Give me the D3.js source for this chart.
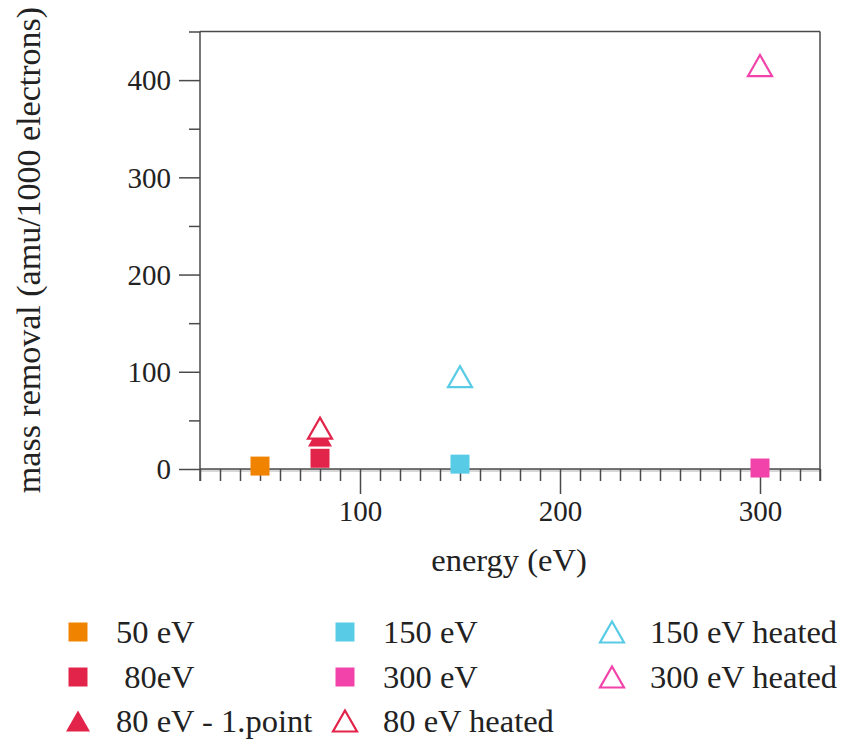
<!DOCTYPE html>
<meta charset="utf-8">
<html>
<head>
<title>mass removal</title>
<script src="https://d3js.org/d3.v7.min.js"></script>
<style>
  body { margin: 0; background: #fff; }
  text { font-family: "Liberation Serif", serif; fill: #222; }
</style>
</head>
<body>
<div id="chart"></div>
<script>
// data
var labels   = ["50 eV", " 80eV", "80 eV - 1.point", "150 eV", "300 eV", "80 eV heated", "150 eV heated", "300 eV heated"];
var energies = [50, 80, 80, 150, 300, 80, 150, 300];
var removal  = [3, 11, 34, 5, 1, 42, 95, 415];
var colors   = ["#f08400", "#e3244a", "#e3244a", "#58cbe6", "#f143aa", "#e3244a", "#58cbe6", "#f143aa"];
var shapes   = ["square", "square", "tri", "square", "square", "open", "open", "open"];

var xMajor = [100, 200, 300];
var yMajor = [0, 100, 200, 300, 400];

var W = 843, H = 740;
var pLeft = 200, pRight = 820, pTop = 31.5, pBottom = 469;

var svg = d3.select("#chart").append("svg")
  .attr("width", W).attr("height", H);

var x = d3.scaleLinear().domain([20, 330]).range([pLeft, pRight]);
var y = d3.scaleLinear().domain([0, 450]).range([pBottom, pTop]);

var axisColor = "#4a4a4a";

// light line under the x axis
svg.append("line")
  .attr("x1", pLeft).attr("x2", pRight)
  .attr("y1", y(0) + 1.5).attr("y2", y(0) + 1.5)
  .attr("stroke", "#d8d8d8").attr("stroke-width", 3);

// x axis at y = 0, ticks pointing down
var xAxis = svg.append("g")
  .attr("transform", "translate(0," + y(0) + ")")
  .call(d3.axisBottom(x).tickValues(d3.range(20, 331, 10)).tickSize(12).tickFormat(""));
xAxis.selectAll(".tick line")
  .attr("y2", function(d) { return xMajor.indexOf(d) >= 0 ? 25 : 12; });
xAxis.selectAll(".tick")
  .filter(function(d) { return xMajor.indexOf(d) >= 0; })
  .append("text")
    .attr("y", 52).attr("text-anchor", "middle")
    .style("font-size", "29px")
    .text(function(d) { return d; });

// y axis, ticks pointing left
var yAxis = svg.append("g")
  .attr("transform", "translate(" + pLeft + ",0)")
  .call(d3.axisLeft(y).tickValues(d3.range(0, 451, 50)).tickSize(11).tickFormat(""));
yAxis.selectAll(".tick line")
  .attr("x2", function(d) { return yMajor.indexOf(d) >= 0 ? -21 : -11; });
yAxis.selectAll(".tick")
  .filter(function(d) { return yMajor.indexOf(d) >= 0; })
  .append("text")
    .attr("x", -29).attr("dy", "0.34em").attr("text-anchor", "end")
    .style("font-size", "29px")
    .text(function(d) { return d; });

svg.selectAll(".domain").remove();
svg.selectAll(".tick line").attr("stroke", axisColor).attr("stroke-width", 1.5);

// frame
var frame = svg.append("g").attr("stroke", axisColor).attr("stroke-width", 1.5);
frame.append("line").attr("x1", pLeft).attr("x2", pLeft).attr("y1", pTop).attr("y2", pBottom + 12);
frame.append("line").attr("x1", pRight).attr("x2", pRight).attr("y1", pTop).attr("y2", pBottom + 12);
frame.append("line").attr("x1", pLeft).attr("x2", pRight).attr("y1", pTop).attr("y2", pTop);
frame.append("line").attr("x1", pLeft).attr("x2", pRight).attr("y1", y(0)).attr("y2", y(0));

// marker paths centred on their box
function markerPath(shape) {
  if (shape == "square") return "M-9.5,-9.5H9.5V9.5H-9.5Z";
  return "M0,-10.5L12,10.5L-12,10.5Z";
}
function styleMarker(sel) {
  sel.attr("d", function(i) { return markerPath(shapes[i]); })
    .attr("fill", function(i) { return shapes[i] == "open" ? "#fff" : colors[i]; })
    .attr("stroke", function(i) { return shapes[i] == "open" ? colors[i] : "none"; })
    .attr("stroke-width", 2.2);
}

var idx = d3.range(labels.length);
svg.append("g").selectAll("path")
  .data(idx)
  .join("path")
    .attr("transform", function(i) { return "translate(" + x(energies[i]) + "," + y(removal[i]) + ")"; })
    .call(styleMarker);

// axis titles
svg.append("text")
  .attr("x", 509).attr("y", 571)
  .attr("text-anchor", "middle")
  .style("font-size", "32.5px")
  .text("energy (eV)");

svg.append("text")
  .attr("transform", "translate(40,250) rotate(-90)")
  .attr("text-anchor", "middle")
  .style("font-size", "34px")
  .text("mass removal (amu/1000 electrons)");

// legend, filled column by column
var colX = [78, 345, 612], rowY = [632, 677, 721];
var leg = svg.append("g").selectAll("g")
  .data(idx)
  .join("g")
    .attr("transform", function(i) {
      return "translate(" + colX[Math.floor(i / 3)] + "," + rowY[i % 3] + ")";
    });
leg.append("path").call(styleMarker);
leg.append("text")
  .attr("x", 38).attr("dy", "0.34em")
  .style("font-size", "32.5px")
  .style("white-space", "pre")
  .text(function(i) { return labels[i]; });
</script>
</body>
</html>
